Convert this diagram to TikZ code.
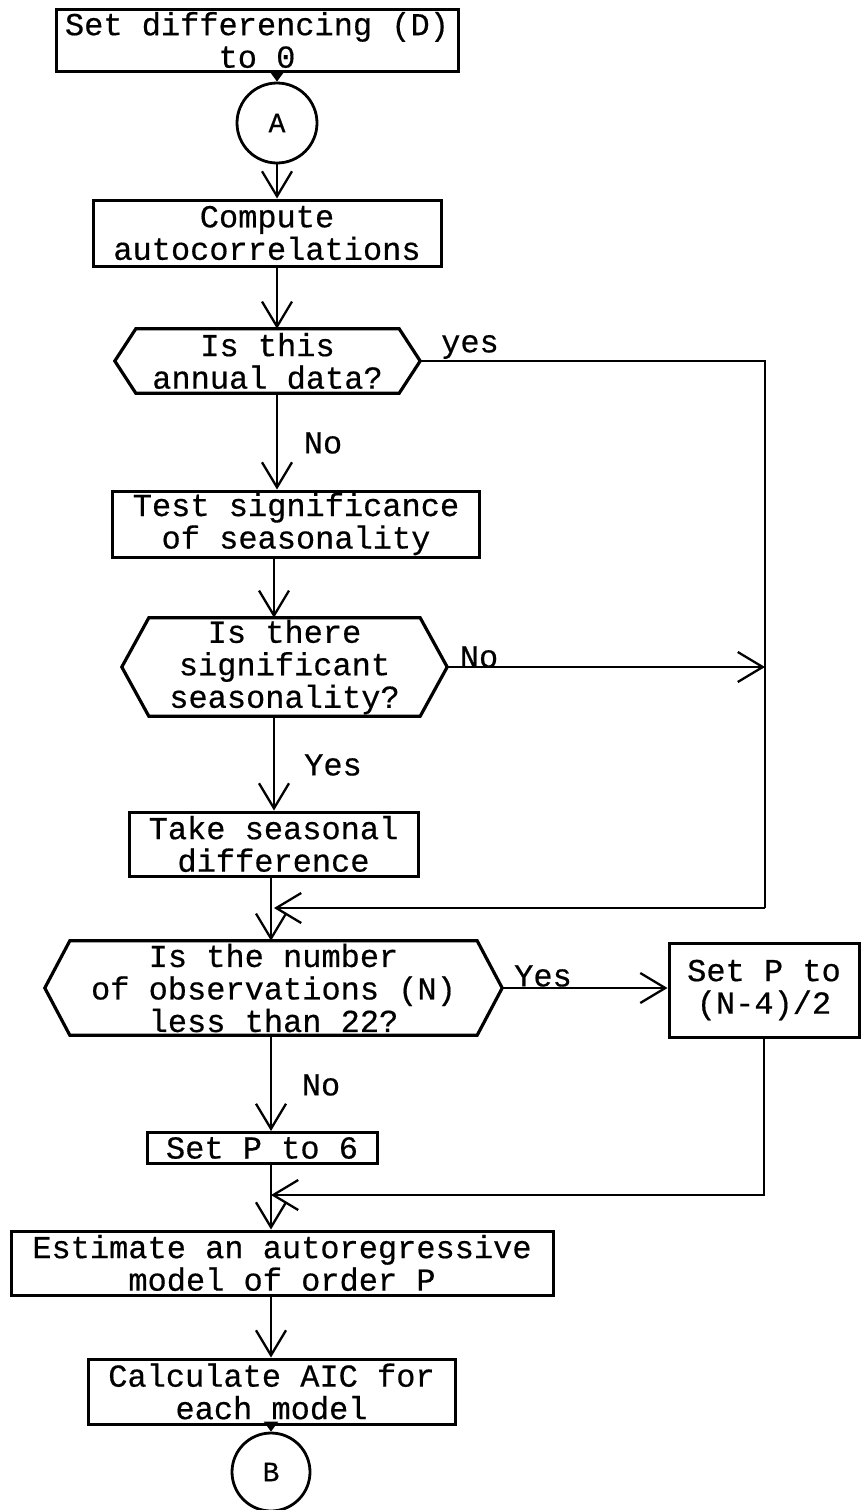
\documentclass[tikz,border=0pt]{standalone}
\usepackage{fontspec}
\newfontfamily\monofont[FakeBold=0.5]{Liberation Mono}
\usetikzlibrary{arrows.meta,calc}
\tikzset{
  txt/.style={font=\monofont\fontsize{32}{32.5}\selectfont, align=center, inner sep=0pt},
  pbox/.style={txt, draw, line width=3pt, rectangle},
  hexnode/.style={txt, rectangle},
  conn/.style={circle, draw, line width=2.8pt, font=\monofont\fontsize{28}{30}\selectfont, inner sep=0pt},
  lbl/.style={font=\monofont\fontsize{32}{33}\selectfont, inner sep=0pt},
  flow/.style={line width=2.3pt, -{Straight Barb[length=25pt,width=30pt,line width=2.3pt]}},
  line/.style={line width=2.3pt},
  smallarr/.style={line width=2.3pt, -{Triangle[length=10pt,width=14pt]}},
  hexline/.style={line width=3.2pt, line join=miter}
}
\newcommand{\hexdraw}[2]{%
  \draw[hexline] ([xshift=#2]#1.north west) -- ([xshift=-#2]#1.north east) -- (#1.east)
     -- ([xshift=-#2]#1.south east) -- ([xshift=#2]#1.south west) -- (#1.west) -- cycle;}
\begin{document}
\begin{tikzpicture}[x=1pt,y=-1pt]
\useasboundingbox (0,0) rectangle (860,1510);
% nodes
\node[pbox, minimum width=402pt, minimum height=62pt] (b1) at (257,40) {Set differencing (D)\\to 0};
\node[conn, minimum size=80pt] (A) at (277,123) {A};
\node[pbox, minimum width=348pt, minimum height=66pt] (b2) at (267,233) {Compute\\autocorrelations};
\node[hexnode, minimum width=305pt, minimum height=64pt] (h1) at (267.5,361) {Is this\\annual data?};
\hexdraw{h1}{21pt}
\node[pbox, minimum width=367pt, minimum height=66pt] (b3) at (296,524) {Test significance\\of seasonality};
\node[hexnode, minimum width=325pt, minimum height=98pt] (h2) at (284.5,667) {Is there\\significant\\seasonality?};
\hexdraw{h2}{27pt}
\node[pbox, minimum width=289pt, minimum height=64pt] (b4) at (273.5,844) {Take seasonal\\difference};
\node[hexnode, minimum width=457pt, minimum height=94pt] (h3) at (273.5,988) {Is the number\\of observations (N)\\less than 22?};
\hexdraw{h3}{25pt}
\node[pbox, minimum width=190pt, minimum height=94pt] (b5) at (764,990) {Set P to\\(N-4)/2};
\node[pbox, minimum width=230pt, minimum height=31pt] (b6) at (262,1148) {Set P to 6};
\node[pbox, minimum width=542pt, minimum height=64pt] (b7) at (282,1263) {Estimate an autoregressive\\model of order P};
\node[pbox, minimum width=367pt, minimum height=65pt] (b8) at (271.5,1391.5) {Calculate AIC for\\each model};
\node[conn, minimum size=78pt] (B) at (271,1472) {B};
% helper coordinates
\coordinate (R1) at (765,361);
\coordinate (R2) at (765,908);
\coordinate (J1) at (274,908);
\coordinate (J2) at (271,1195);
% connectors
\draw[smallarr] (b1.south -| A) -- (A.north);
\draw[flow] (A.south) -- (b2.north -| A);
\draw[flow] (b2.south -| A) -- (h1.north -| A);
\draw[flow] (h1.south -| A) -- (b3.north -| A);
\draw[flow] (b3.south -| J1) -- (h2.north -| J1);
\draw[flow] (h2.south -| J1) -- (b4.north -| J1);
\draw[line] (h1.east) -- (h1.east -| R1) -- (R2);
\draw[flow] (R2) -- (J1);
\draw[flow] (h2.east) -- (h2.east -| R1);
\draw[flow] (b4.south -| B) -- (h3.north -| B);
\draw[flow] (h3.east) -- (b5.west |- h3.east);
\draw[flow] (h3.south -| B) -- (b6.north -| B);
\draw[flow] (b5.south) |- (J2);
\draw[flow] (b6.south -| B) -- (b7.north -| B);
\draw[flow] (b7.south -| B) -- (b8.north -| B);
\draw[smallarr] (b8.south -| B) -- (B.north);
% labels
\node[lbl] (l1) at (470,347) {yes};
\node[lbl] (l2) at (323,443) {No};
\node[lbl] (l3) at (479,657) {No};
\node[lbl] (l4) at (333,765) {Yes};
\node[lbl] (l5) at (543,976) {Yes};
\node[lbl] (l6) at (321,1085) {No};
\end{tikzpicture}
\end{document}
